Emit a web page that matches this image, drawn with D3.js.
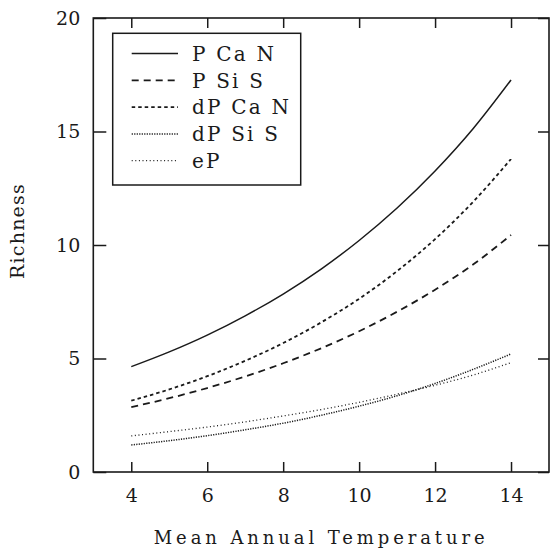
<!DOCTYPE html>
<html><head><meta charset="utf-8">
<script src="https://cdn.jsdelivr.net/npm/d3@7"></script>
<style>body{margin:0;background:#fff}svg{display:block}</style>
</head><body>
<svg id="c" width="550" height="552"></svg>
<script>
const temps = [4,5,6,7,8,9,10,11,12,13,14];
const pCaN  = [4.64,5.29,6.03,6.88,7.84,8.94,10.2,11.63,13.26,15.12,17.27];
const pSiS  = [2.86,3.25,3.70,4.21,4.79,5.45,6.20,7.06,8.03,9.14,10.44];
const dpCaN = [3.14,3.64,4.22,4.90,5.68,6.59,7.63,8.85,10.26,11.9,13.79];
const dpSiS = [1.19,1.38,1.60,1.86,2.15,2.50,2.90,3.36,3.90,4.52,5.20];
const eP    = [1.59,1.78,1.98,2.21,2.47,2.75,3.07,3.43,3.82,4.27,4.82];
const seriesNames = ["P Ca N","P Si S","dP Ca N","dP Si S","eP"];
const seriesVals = [pCaN,pSiS,dpCaN,dpSiS,eP];
const dashes = [null,"7,5","3.5,3","1.2,1.3","1,2.6"];
const widths = [1.5,1.8,1.8,1.5,1.3];
const xTicks = [4,6,8,10,12,14];
const yTicks = [0,5,10,15,20];

const svg = d3.select("#c");
const L=93.3, R=549, T=18, B=472;
const x = d3.scaleLinear().domain([3,15]).range([L,R]);
const y = d3.scaleLinear().domain([0,20]).range([B,T]);
const ink = "#1a1a1a";
const font = "DejaVu Serif";

function style(g){
  g.select(".domain").remove();
  g.selectAll(".tick line").attr("stroke",ink).attr("stroke-width",1.5);
  g.selectAll("text").attr("font-family",font).attr("font-size",19).attr("fill",ink);
}
svg.append("g").attr("transform",`translate(0,${B})`)
  .call(d3.axisBottom(x).tickValues(xTicks).tickSize(-10).tickPadding(17).tickFormat(d3.format("d"))).call(style);
svg.append("g").attr("transform",`translate(0,${T})`)
  .call(d3.axisTop(x).tickValues(xTicks).tickSize(-10).tickFormat("")).call(style);
svg.append("g").attr("transform",`translate(${L},0)`)
  .call(d3.axisLeft(y).tickValues(yTicks).tickSize(-13).tickPadding(13).tickFormat(d3.format("d"))).call(style);
svg.append("g").attr("transform",`translate(${R},0)`)
  .call(d3.axisRight(y).tickValues(yTicks).tickSize(-11).tickFormat("")).call(style);

svg.append("rect").attr("x",L).attr("y",T).attr("width",R-L).attr("height",B-T)
  .attr("fill","none").attr("stroke",ink).attr("stroke-width",1.6);

const line = d3.line().x((d,i)=>x(temps[i])).y(d=>y(d)).curve(d3.curveMonotoneX);
seriesVals.forEach((vals,k)=>{
  svg.append("path").datum(vals).attr("d",line).attr("fill","none")
    .attr("stroke",ink).attr("stroke-width",widths[k])
    .attr("stroke-dasharray",dashes[k]);
});

// legend
const lg = svg.append("g");
lg.append("rect").attr("x",112.7).attr("y",33.3).attr("width",188).attr("height",151.7)
  .attr("fill","#fff").attr("stroke",ink).attr("stroke-width",1.5);
seriesNames.forEach((name,k)=>{
  const yy = 53.5 + k*26.8;
  lg.append("line").attr("x1",131.7).attr("x2",178).attr("y1",yy).attr("y2",yy)
    .attr("stroke",ink).attr("stroke-width",widths[k]).attr("stroke-dasharray",dashes[k]);
  lg.append("text").attr("x",192).attr("y",yy).attr("dy","0.36em")
    .attr("font-family",font).attr("font-size",20).attr("letter-spacing",2.2)
    .attr("fill",ink).attr("xml:space","preserve").text(name);
});

svg.append("text").attr("x",(L+R)/2).attr("y",538).attr("dy","0.36em")
  .attr("text-anchor","middle").attr("font-family",font).attr("font-size",18)
  .attr("letter-spacing",3.9).attr("fill",ink).text("Mean Annual Temperature");
svg.append("text").attr("transform","translate(17,231) rotate(-90)").attr("dy","0.36em")
  .attr("text-anchor","middle").attr("font-family",font).attr("font-size",19)
  .attr("letter-spacing",1.2).attr("fill",ink).text("Richness");
</script>
</body></html>
